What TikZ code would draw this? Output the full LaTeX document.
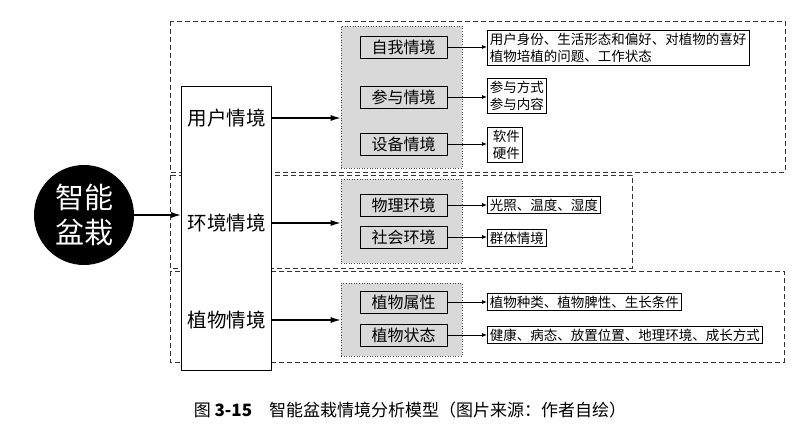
\documentclass[tikz,border=0pt]{standalone}
\usepackage{fontspec}
\setmainfont{Noto Sans CJK SC}
\usetikzlibrary{arrows.meta}
\begin{document}
\begin{tikzpicture}[x=1pt,y=-1pt,
 dbox/.style={draw=black!80,dash pattern=on 5pt off 3pt,line width=0.7pt},
 gbox/.style={draw=black!70,dotted,fill=black!15,line width=0.6pt},
 ibox/.style={draw=black,fill=black!15,line width=0.8pt,minimum width=87pt,minimum height=22pt,font=\fontsize{16}{16}\selectfont,inner sep=0pt},
 tbox/.style={draw=black,fill=white,line width=0.8pt,align=left,font=\fontsize{13.5}{17}\selectfont,inner sep=2.5pt,anchor=west},
 big/.style={-{Latex[length=10pt,width=6pt]},line width=1.3pt},
 sm/.style={-{Latex[length=5pt,width=4pt]},line width=0.8pt}]
\useasboundingbox (0,0) rectangle (800,425);
\draw[dbox] (170,21) rectangle (785,172);
\draw[dbox] (170,175) rectangle (632,268);
\draw[dbox] (170,271) rectangle (784,362);
\node[gbox,minimum width=121pt,minimum height=142pt] (g1) at (401.5,97) {};
\node[gbox,minimum width=121pt,minimum height=84pt] (g2) at (401.5,221) {};
\node[gbox,minimum width=121pt,minimum height=73pt] (g3) at (401.5,319.5) {};
\node[draw,line width=0.9pt,fill=white,minimum width=90pt,minimum height=284pt] (L) at (226.5,228) {};
\node[font=\fontsize{19.5}{19.5}\selectfont] (u) at (226.5,118) {用户情境};
\node[font=\fontsize{19.5}{19.5}\selectfont] (e) at (226.5,223) {环境情境};
\node[font=\fontsize{19.5}{19.5}\selectfont] (p) at (226.5,320) {植物情境};
\node[circle,fill=black,minimum size=100pt,text=white,align=center,font=\fontsize{29}{35}\selectfont] (c) at (84,215) {智能\\盆栽};
\draw[big] (c.east) -- (L.west |- c.east);
\draw[big] (L.east |- u) -- (g1.west |- u);
\draw[big] (L.east |- e) -- (g2.west |- e);
\draw[big] (L.east |- p) -- (g3.west |- p);
\node[ibox] (a1) at (403.5,47) {自我情境};
\node[ibox] (a2) at (403.5,97) {参与情境};
\node[ibox] (a3) at (403.5,144) {设备情境};
\node[ibox] (b1) at (403.5,205) {物理环境};
\node[ibox] (b2) at (403.5,237) {社会环境};
\node[ibox] (c1) at (403.5,302) {植物属性};
\node[ibox] (c2) at (403.5,335) {植物状态};
\node[tbox] (t1) at (487,48) {用户身份、生活形态和偏好、对植物的喜好\\植物培植的问题、工作状态};
\node[tbox] (t2) at (487,96) {参与方式\\参与内容};
\node[tbox] (t3) at (487,145) {\ 软件\\\ 硬件};
\node[tbox] (t4) at (487,205) {光照、温度、湿度};
\node[tbox] (t5) at (487,238) {群体情境};
\node[tbox] (t6) at (487,302) {植物种类、植物脾性、生长条件};
\node[tbox] (t7) at (487,335) {健康、病态、放置位置、地理环境、成长方式};
\foreach \s/\t in {a1/t1,a2/t2,a3/t3,b1/t4,b2/t5,c1/t6,c2/t7}
  \draw[sm] (\s.east) -- (\t.west |- \s.east);
\node[font=\fontsize{17}{17}\selectfont] (cap) at (410,410) {图 \textbf{3-15}\quad 智能盆栽情境分析模型（图片来源：作者自绘）};
\end{tikzpicture}
\end{document}
